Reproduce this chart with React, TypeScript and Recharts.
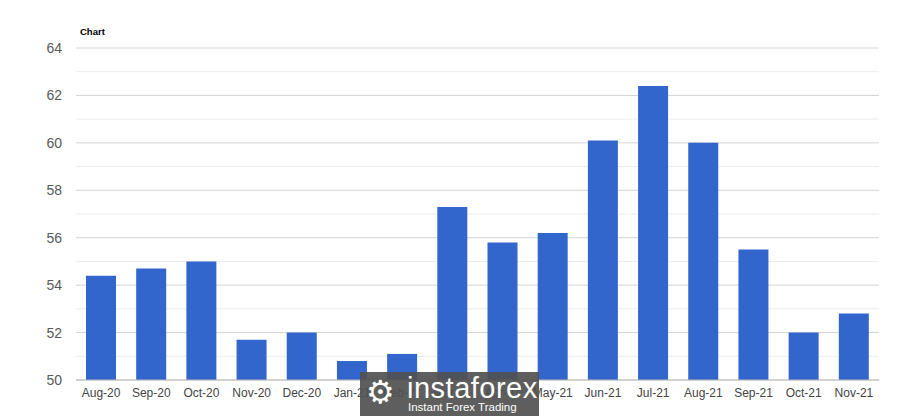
import { BarChart, Bar, XAxis, YAxis, CartesianGrid } from "recharts";

// Monthly index readings, Aug-20 .. Nov-21
const months = [
  "Aug-20", "Sep-20", "Oct-20", "Nov-20", "Dec-20", "Jan-21", "Feb-21", "Mar-21",
  "Apr-21", "May-21", "Jun-21", "Jul-21", "Aug-21", "Sep-21", "Oct-21", "Nov-21",
];
const values = [54.4, 54.7, 55.0, 51.7, 52.0, 50.8, 51.1, 57.3, 55.8, 56.2, 60.1, 62.4, 60.0, 55.5, 52.0, 52.8];
const majorTicks = [50, 52, 54, 56, 58, 60, 62, 64];
const minorTicks = [51, 53, 55, 57, 59, 61, 63];

const data = months.map((m, i) => ({ month: m, value: values[i] }));

const font = "Arial, 'Liberation Sans', sans-serif";

export default function App() {
  return (
    <div style={{ position: "fixed", left: 0, top: 0, width: 900, height: 416, background: "#fff", overflow: "hidden" }}>
      <div style={{ position: "absolute", left: 80, top: 26, fontFamily: font, fontWeight: 700, fontSize: 9.5, color: "#000" }}>
        Chart
      </div>
      <BarChart
        width={900}
        height={416}
        data={data}
        margin={{ top: 48, right: 21, bottom: 6, left: 0 }}
        barSize={30}
      >
        <CartesianGrid vertical={false} horizontalValues={minorTicks} stroke="#ececec" />
        <CartesianGrid vertical={false} horizontalValues={majorTicks} stroke="#d4d4d4" />
        <XAxis
          dataKey="month"
          height={30}
          tickLine={false}
          axisLine={{ stroke: "#bbb" }}
          interval={0}
          tick={{ fontSize: 12, fill: "#444", fontFamily: font }}
        />
        <YAxis
          width={76}
          domain={[50, 64]}
          ticks={majorTicks}
          tickLine={false}
          axisLine={false}
          tickMargin={8}
          tick={{ fontSize: 14, fill: "#5a5a5a", fontFamily: font }}
        />
        <Bar dataKey="value" fill="#3366cc" isAnimationActive={false} />
      </BarChart>
      <div
        style={{
          position: "absolute", left: 360, top: 372, width: 179, height: 44,
          background: "rgba(80,80,80,0.92)", color: "#fff", fontFamily: font,
        }}
      >
        <div style={{ position: "absolute", left: 6, top: 2, fontSize: 32, lineHeight: "36px", fontFamily: "'DejaVu Sans', sans-serif" }}>⚙</div>
        <div style={{ position: "absolute", left: 47, top: 1, fontSize: 29, lineHeight: "30px", letterSpacing: 0.5 }}>instaforex</div>
        <div style={{ position: "absolute", left: 48, top: 29, fontSize: 11.5, lineHeight: "13px" }}>Instant Forex Trading</div>
      </div>
    </div>
  );
}
